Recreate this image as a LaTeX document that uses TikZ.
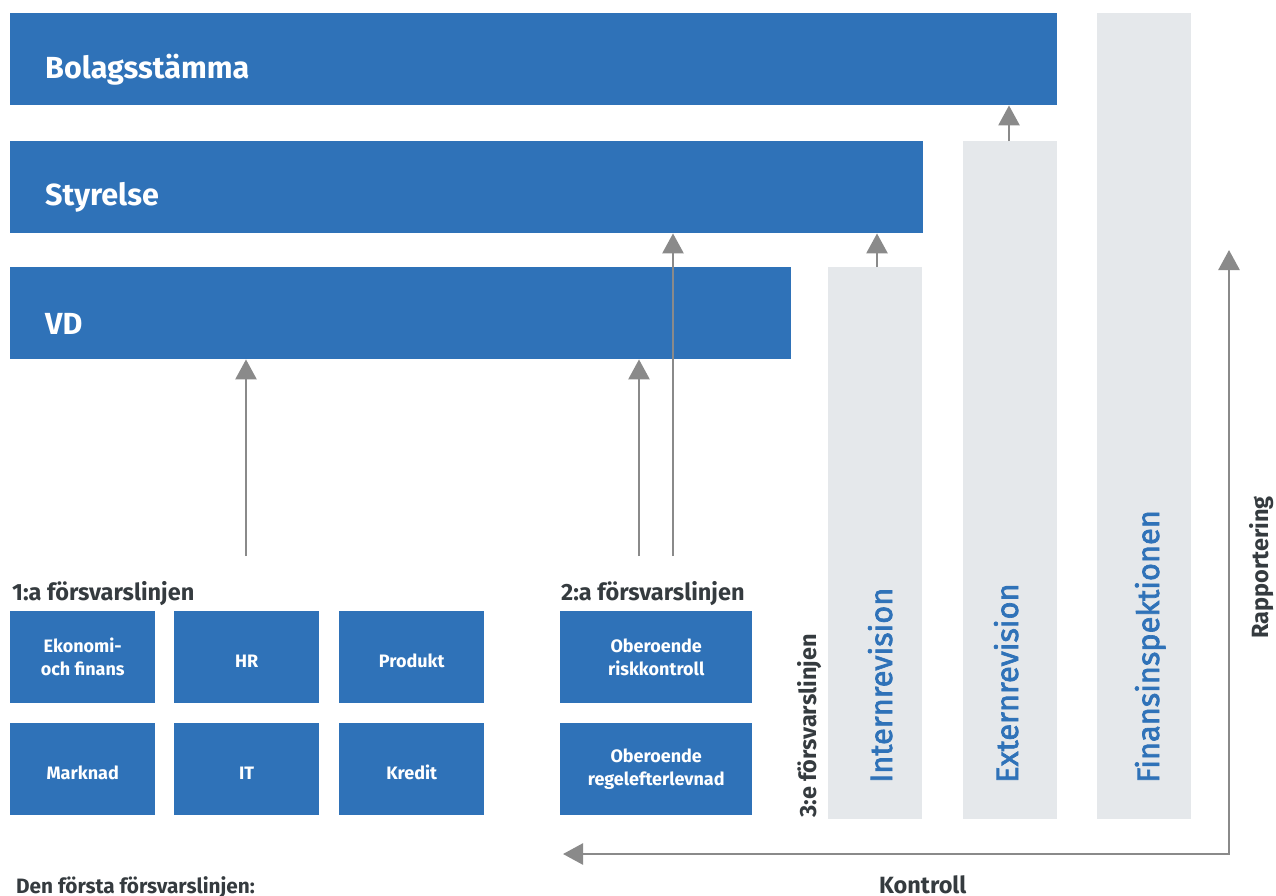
\documentclass[tikz,border=0pt]{standalone}
\usepackage{fontspec}
\setmainfont{Fira Sans}
\newfontfamily\colfont{Fira Sans}[FakeBold=2.2]
\usetikzlibrary{arrows.meta}
\definecolor{cblue}{HTML}{2F72B8}
\definecolor{cgrey}{HTML}{E5E8EB}
\definecolor{carrow}{HTML}{8A8A8A}
\definecolor{ctext}{HTML}{353B3F}
\begin{document}
\begin{tikzpicture}[x=1pt,y=-1pt,
  bigbox/.style={fill=cblue, draw=none, anchor=north west, inner sep=0pt, minimum height=92pt},
  bigtext/.style={text=white, anchor=base west, inner sep=0pt, font=\bfseries\fontsize{30.5}{34}\selectfont},
  smallbox/.style={fill=cblue, draw=none, anchor=north west, inner sep=0pt, minimum height=92pt, text=white, align=center, font=\bfseries\fontsize{18}{23}\selectfont},
  onel/.style={text height=21pt},
  greycol/.style={fill=cgrey, draw=none, anchor=north west, inner sep=0pt, minimum width=94pt},
  coltext/.style={text=cblue, rotate=90, anchor=base west, inner sep=0pt, font=\colfont\fontsize{30.8}{34}\selectfont},
  heading/.style={text=ctext, anchor=base west, inner sep=0pt, font=\bfseries\fontsize{23.5}{26}\selectfont},
  arr/.style={draw=carrow, line width=2.6pt, -{Triangle[width=21pt,length=20pt]}},
  arrboth/.style={draw=carrow, line width=2.6pt, {Triangle[width=21pt,length=20pt]}-{Triangle[width=21pt,length=20pt]}}
]
\useasboundingbox (0,0) rectangle (1276,895);

% large blue bars
\node[bigbox, minimum width=1047pt] (bs) at (10,13) {};
\node[bigbox, minimum width=913pt] (st) at (10,141) {};
\node[bigbox, minimum width=781pt] (vd) at (10,267) {};
\node[bigtext] (bst) at (45,78) {Bolagsstämma};
\node[bigtext] (stt) at (45,205) {Styrelse};
\node[bigtext] (vdt) at (45,334) {VD};

% grey columns
\node[greycol, minimum height=552pt] (ir) at (828,267) {};
\node[greycol, minimum height=678pt] (er) at (963,141) {};
\node[greycol, minimum height=806pt] (fi) at (1097,13) {};
\node[coltext] (irt) at (892,783) {Internrevision};
\node[coltext] (ert) at (1018,783) {Externrevision};
\node[coltext] (fit) at (1159,783) {Finansinspektionen};

% headings
\node[heading] (h1) at (12,600) {1:a försvarslinjen};
\node[heading] (h2) at (561,600) {2:a försvarslinjen};
\node[heading, rotate=90] (h3) at (816,818) {3:e försvarslinjen};
\node[heading, rotate=90] (rap) at (1268,639) {Rapportering};
\node[heading] (kon) at (879,893) {Kontroll};
\node[heading, font=\bfseries\fontsize{20.8}{24}\selectfont] (den) at (16,893) {Den första försvarslinjen:};

% small boxes, first line
\node[smallbox, minimum width=145pt] (b1) at (10,611) {Ekonomi-\\och finans};
\node[smallbox, minimum width=145pt, onel] (b2) at (174,611) {HR};
\node[smallbox, minimum width=145pt, onel] (b3) at (339,611) {Produkt};
\node[smallbox, minimum width=145pt, onel] (b4) at (10,723) {Marknad};
\node[smallbox, minimum width=145pt, onel] (b5) at (174,723) {IT};
\node[smallbox, minimum width=145pt, onel] (b6) at (339,723) {Kredit};
% second line
\node[smallbox, minimum width=192pt] (c1) at (560,611) {Oberoende\\riskkontroll};
\node[smallbox, minimum width=192pt] (c2) at (560,723) {Oberoende\\regelefterlevnad};

% arrows
\coordinate (a1) at (246,556);
\coordinate (a2) at (639,556);
\coordinate (a3) at (673,556);
\coordinate (irtop) at (877,267);
\coordinate (ertop) at (1009,141);
\draw[arr] (a1) -- (a1 |- vd.south);
\draw[arr] (a2) -- (a2 |- vd.south);
\draw[arr] (a3) -- (a3 |- st.south);
\draw[arr] (irtop) -- (irtop |- st.south);
\draw[arr] (ertop) -- (ertop |- bs.south);
\coordinate (ktip) at (563,854);
\coordinate (kcorner) at (1229,854);
\coordinate (rtip) at (1229,250);
\draw[arrboth] (ktip) -- (kcorner) -- (rtip);
\end{tikzpicture}
\end{document}
